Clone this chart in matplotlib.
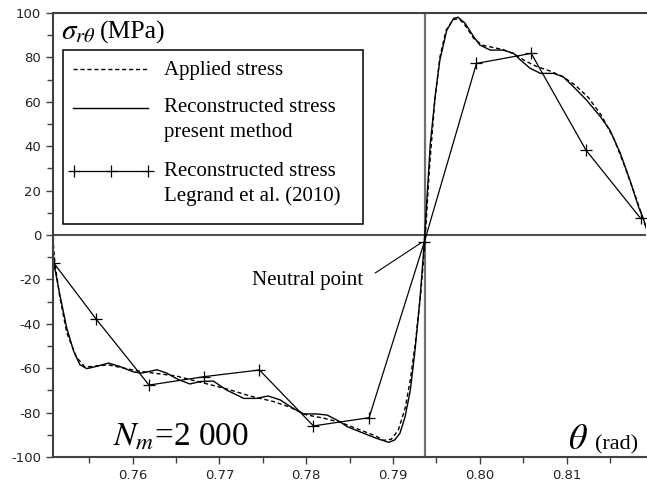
import matplotlib.pyplot as plt
from matplotlib.ticker import MultipleLocator, FormatStrFormatter

plt.rcParams['mathtext.fontset'] = 'stix'
plt.rcParams['axes.unicode_minus'] = False

# Contrainte appliquée (courbe de référence)
theta_app = [0.7508, 0.7510, 0.7516, 0.7524, 0.7535, 0.7545, 0.7558, 0.7572, 0.7590,
             0.7610, 0.7630, 0.7650, 0.7670, 0.7690, 0.7710, 0.7735, 0.7762, 0.7781,
             0.7800, 0.7820, 0.7840, 0.7860, 0.7880, 0.7889, 0.7898, 0.7906, 0.7914,
             0.7920, 0.7926, 0.7932, 0.7937, 0.7942, 0.7948, 0.7954, 0.7961, 0.7969,
             0.7976, 0.7984, 0.7993, 0.8003, 0.8015, 0.8027, 0.8040, 0.8052, 0.8065,
             0.8080, 0.8095, 0.8110, 0.8125, 0.8140, 0.8155, 0.8168, 0.8178, 0.8186, 0.8192]
sigma_app = [-1, -12, -28, -44, -55, -59.5, -59, -58.5, -60,
             -61.5, -62.5, -63.5, -65.5, -67.5, -69.5, -72.5, -75, -77.5,
             -81, -82.5, -84.5, -87.5, -90.5, -92.5, -92, -88, -78,
             -65, -48, -26, -2, 30, 60, 80, 92, 97,
             97.5, 94, 88.5, 85.5, 84.5, 83.5, 81.5, 78.5, 76,
             74, 71.5, 67.5, 62, 54, 43, 30, 19, 10, 3]

# Contrainte reconstruite (méthode proposée)
theta_rec = [0.7508, 0.7509, 0.7516, 0.7524, 0.7532, 0.7539, 0.7547, 0.7558, 0.7572,
             0.7585, 0.7601, 0.7610, 0.7628, 0.7639, 0.7653, 0.7666, 0.7678, 0.7693,
             0.7708, 0.7728, 0.7743, 0.7756, 0.7770, 0.7785, 0.7797, 0.7812, 0.7824,
             0.7839, 0.7847, 0.7866, 0.7881, 0.7895, 0.7902, 0.7908, 0.7914, 0.7920,
             0.7925, 0.7931, 0.7936, 0.7943, 0.7949, 0.7954, 0.7962, 0.7970, 0.7975,
             0.7983, 0.7993, 0.8000, 0.8012, 0.8027, 0.8039, 0.8047, 0.8058, 0.8070,
             0.8085, 0.8096, 0.8108, 0.8123, 0.8139, 0.8150, 0.8162, 0.8173, 0.8183,
             0.8189, 0.8192]
sigma_rec = [-4, -12.6, -27, -42, -52.4, -58.4, -60.2, -59.2, -57.7,
             -59.2, -61.7, -62.2, -60.7, -62.2, -65.2, -67.1, -66, -65.8,
             -69.8, -73.6, -73.6, -72.5, -74.3, -78.1, -80.6, -80.6, -81.1,
             -84.1, -86.3, -89.3, -91.6, -93.4, -92.3, -89.3, -81.8, -69.8,
             -53.3, -29.3, -3.7, 41.3, 63.8, 78.8, 92.3, 97.6, 98.1,
             95.4, 89.3, 85.6, 83.3, 83.3, 81.8, 78.8, 75.1, 72.8,
             72.8, 71.3, 66.8, 60.8, 53.3, 47.3, 36.8, 24.8, 12.7,
             6.8, 3]

# Contrainte reconstruite, Legrand et al. (2010)
theta_leg = [0.7509, 0.75577, 0.76188, 0.76826, 0.77460, 0.78083, 0.78724,
             0.79362, 0.79962, 0.80593, 0.81223, 0.81854]
sigma_leg = [-12.6, -37.8, -67.6, -63.8, -60.8, -86.0, -82.3,
             -3.0, 77.3, 81.8, 38.3, 7.5]

theta_neutre = 0.79372

fig = plt.figure(figsize=(6.47, 4.87), dpi=100)
ax = fig.add_axes([53 / 647, 1 - 457 / 487, 593 / 647, 444 / 487])

ax.plot(theta_app, sigma_app, color='black', lw=1.0, dashes=(3, 2))
ax.plot(theta_rec, sigma_rec, color='black', lw=1.0)
ax.plot(theta_leg, sigma_leg, color='black', lw=0.9, marker='+', ms=9, mew=0.9)

ax.set_xlim(0.75081, 0.81916)
ax.set_ylim(-100, 100)

# axes qui se croisent au point neutre
ax.axhline(0, color='#505050', lw=1.5, zorder=0)
ax.axvline(theta_neutre, color='#707070', lw=1.6, zorder=0)

for s in ['left', 'top', 'bottom']:
    ax.spines[s].set_color('#404040')
    ax.spines[s].set_linewidth(1.5)
ax.spines['right'].set_visible(False)

ax.xaxis.set_major_locator(MultipleLocator(0.01))
ax.xaxis.set_minor_locator(MultipleLocator(0.005))
ax.xaxis.set_major_formatter(FormatStrFormatter('%.2f'))
ax.yaxis.set_major_locator(MultipleLocator(20))
ax.yaxis.set_minor_locator(MultipleLocator(10))
ax.tick_params(which='both', direction='out', color='#404040', width=1.0,
               labelsize=9.5, labelcolor='#222222')
ax.tick_params(which='major', length=5)
ax.tick_params(which='minor', length=4)

serif = 'Liberation Serif'
fx = lambda px: (px - 53) / 593
fy = lambda py: (457 - py) / 444

# légende dessinée à la main
ax.add_patch(plt.Rectangle((fx(63), fy(224)), fx(363) - fx(63), fy(50) - fy(224),
                           transform=ax.transAxes, facecolor='white',
                           edgecolor='black', lw=1.1, zorder=3))
ax.plot([fx(73), fx(148)], [fy(69), fy(69)], transform=ax.transAxes,
        color='black', lw=1.0, dashes=(3, 2), zorder=4)
ax.plot([fx(73), fx(148)], [fy(108), fy(108)], transform=ax.transAxes,
        color='black', lw=1.0, zorder=4)
ax.plot([fx(74), fx(111), fx(148)], [fy(171)] * 3, transform=ax.transAxes,
        color='black', lw=0.9, marker='+', ms=9, mew=0.9, zorder=4)
for txt, py in [('Applied stress', 75), ('Reconstructed stress', 112.5),
                ('present method', 137.5), ('Reconstructed stress', 176),
                ('Legrand et al. (2010)', 201)]:
    ax.text(fx(164), fy(py), txt, transform=ax.transAxes, family=serif,
            fontsize=15, va='baseline', ha='left', zorder=5)

ax.text(fx(61), fy(39), r'$\sigma_{r\theta}$', transform=ax.transAxes,
        fontsize=21, va='baseline', ha='left')
ax.text(fx(100), fy(39), '(MPa)', transform=ax.transAxes, family=serif,
        fontsize=18.5, va='baseline', ha='left')

ax.text(fx(113), fy(445), r'$N_m$=2 000', transform=ax.transAxes, family=serif,
        fontsize=24, va='baseline', ha='left')

ax.text(fx(588), fy(449), r'$\theta$', transform=ax.transAxes,
        fontsize=26, va='baseline', ha='right')
ax.text(fx(638), fy(449), '(rad)', transform=ax.transAxes, family=serif,
        fontsize=16, va='baseline', ha='right')

ax.annotate('Neutral point', xy=(0.79325, -3.5), xytext=(0.78655, -20.7),
            family=serif, fontsize=15, ha='right', va='center',
            arrowprops=dict(arrowstyle='-', relpos=(1, 0.5), shrinkA=8,
                            shrinkB=0, lw=0.8, color='black'))

fig.savefig('out.png', dpi=100)
